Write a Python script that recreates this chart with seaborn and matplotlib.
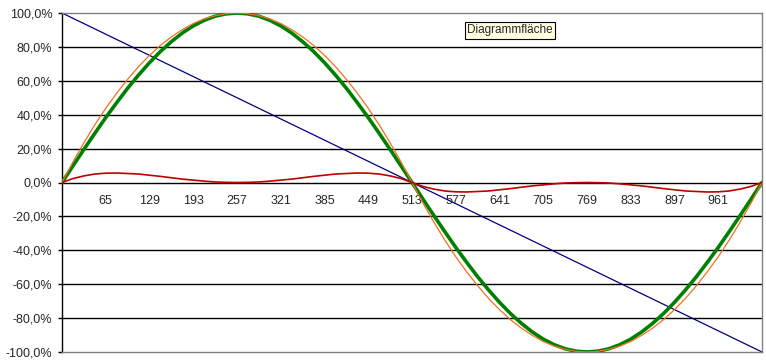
import matplotlib
matplotlib.use('Agg')
import matplotlib.pyplot as plt
import seaborn as sns
from matplotlib.ticker import FuncFormatter

# sample numbers (every 16th of 1025 points)
samples = list(range(1, 1026, 16))

# sine, in percent
sine_pct = [0, 9.8, 19.5, 29.0, 38.3, 47.1, 55.6, 63.4, 70.7, 77.3, 83.1, 88.2, 92.4, 95.7, 98.1, 99.5,
            100, 99.5, 98.1, 95.7, 92.4, 88.2, 83.1, 77.3, 70.7, 63.4, 55.6, 47.1, 38.3, 29.0, 19.5, 9.8,
            0, -9.8, -19.5, -29.0, -38.3, -47.1, -55.6, -63.4, -70.7, -77.3, -83.1, -88.2, -92.4, -95.7, -98.1, -99.5,
            -100, -99.5, -98.1, -95.7, -92.4, -88.2, -83.1, -77.3, -70.7, -63.4, -55.6, -47.1, -38.3, -29.0, -19.5, -9.8, 0]

# parabola approximation, in percent (orange curve)
approx_pct = [0, 12.1, 23.4, 34.0, 43.8, 52.7, 60.9, 68.4, 75.0, 80.9, 85.9, 90.2, 93.8, 96.5, 98.4, 99.6,
              100, 99.6, 98.4, 96.5, 93.8, 90.2, 85.9, 80.9, 75.0, 68.4, 60.9, 52.7, 43.8, 34.0, 23.4, 12.1,
              0, -12.1, -23.4, -34.0, -43.8, -52.7, -60.9, -68.4, -75.0, -80.9, -85.9, -90.2, -93.8, -96.5, -98.4, -99.6,
              -100, -99.6, -98.4, -96.5, -93.8, -90.2, -85.9, -80.9, -75.0, -68.4, -60.9, -52.7, -43.8, -34.0, -23.4, -12.1, 0]

# error between the two (red curve)
error_pct = [0, 2.3, 3.9, 5.0, 5.5, 5.6, 5.3, 5.0, 4.3, 3.6, 2.8, 2.0, 1.4, 0.8, 0.3, 0.1,
             0, 0.1, 0.3, 0.8, 1.4, 2.0, 2.8, 3.6, 4.3, 5.0, 5.3, 5.6, 5.5, 5.0, 3.9, 2.3,
             0, -2.3, -3.9, -5.0, -5.5, -5.6, -5.3, -5.0, -4.3, -3.6, -2.8, -2.0, -1.4, -0.8, -0.3, -0.1,
             0, -0.1, -0.3, -0.8, -1.4, -2.0, -2.8, -3.6, -4.3, -5.0, -5.3, -5.6, -5.5, -5.0, -3.9, -2.3, 0]

# linear ramp (blue line), end points
ramp_x = [1, 1025]
ramp_pct = [100, -100]

x_ticks = [65, 129, 193, 257, 321, 385, 449, 513, 577, 641, 705, 769, 833, 897, 961]
y_ticks = [-100, -80, -60, -40, -20, 0, 20, 40, 60, 80, 100]

sns.set_style('white')
plt.rcParams['font.family'] = ['Liberation Sans', 'DejaVu Sans']

fig = plt.figure(figsize=(7.66, 3.6), dpi=100)
ax = fig.add_axes([62 / 766, 8 / 360, 700 / 766, 339 / 360])

# horizontal gridlines (black), inner ones only
for y in y_ticks[1:-1]:
    ax.axhline(y, color='black', lw=1, zorder=1)

sns.lineplot(x=ramp_x, y=ramp_pct, color='#000080', linewidth=0.9, ax=ax, zorder=2)
sns.lineplot(x=samples, y=sine_pct, color='#008000', linewidth=2.6, ax=ax, zorder=3)
sns.lineplot(x=samples, y=approx_pct, color='#F07020', linewidth=0.9, ax=ax, zorder=4)
sns.lineplot(x=samples, y=error_pct, color='#C00000', linewidth=1.2, ax=ax, zorder=5)

ax.set_xlim(1, 1025)
ax.set_ylim(-100, 100)
ax.set_yticks(y_ticks)
ax.yaxis.set_major_formatter(FuncFormatter(lambda v, p: f'{v:.1f}%'.replace('.', ',')))
ax.set_xticks([])
ax.tick_params(axis='y', direction='out', length=3, width=1, color='black', pad=4,
               labelsize=9, left=True)

for xt in x_ticks:
    ax.text(xt, -11.2, str(xt), ha='center', va='center', fontsize=9)

for side in ['top', 'right', 'bottom']:
    ax.spines[side].set_color('#808080')
    ax.spines[side].set_linewidth(1)
ax.spines['left'].set_color('black')
ax.spines['left'].set_linewidth(1)

fig.text(510 / 766, 1 - 30.5 / 360, 'Diagrammfläche', ha='center', va='center', fontsize=8.5,
         bbox=dict(boxstyle='square,pad=0.2', facecolor='#FFFFE1', edgecolor='black', linewidth=0.8))

fig.savefig('out.png', dpi=100)
